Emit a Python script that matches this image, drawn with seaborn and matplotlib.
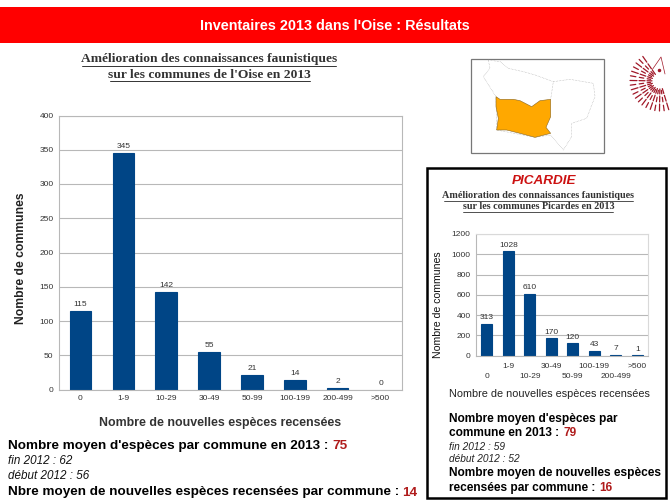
import numpy as np
import pandas as pd
import matplotlib
matplotlib.use("Agg")
import matplotlib.pyplot as plt
from matplotlib.patches import Polygon, Rectangle
import seaborn as sns

# Oise chart
classes = ["0", "1-9", "10-29", "30-49", "50-99", "100-199", "200-499", ">500"]
oise_values = [115, 345, 142, 55, 21, 14, 2, 0]
oise_ticks = [0, 50, 100, 150, 200, 250, 300, 350, 400]

# Picardie chart
picardie_values = [313, 1028, 610, 170, 120, 43, 7, 1]
picardie_ticks = [0, 200, 400, 600, 800, 1000, 1200]

BLUE = "#004586"
GRID = "#b8b8b8"
W, H = 670, 503

sns.set_theme(style="white")
plt.rcParams["font.family"] = ["Liberation Sans", "DejaVu Sans"]

fig = plt.figure(figsize=(W / 100, H / 100), dpi=100, facecolor="white")


def axes_px(left, top, right, bottom):
    return fig.add_axes([left / W, 1 - bottom / H, (right - left) / W, (bottom - top) / H])


def bar_chart(ax, values, ticks, ymax, width, fs):
    df = pd.DataFrame({"classe": classes, "n": values})
    sns.barplot(data=df, x="classe", y="n", color=BLUE, saturation=1, width=width, ax=ax,
                edgecolor=BLUE, linewidth=0.8)
    for p in ax.containers[0]:
        if p.get_height() == 0:
            p.set_linewidth(0)
    ax.set_xlim(-0.5, len(classes) - 0.5)
    ax.set_ylim(0, ymax)
    ax.set_yticks(ticks)
    ax.set_xlabel("")
    ax.set_ylabel("")
    ax.grid(axis="y", color=GRID, lw=0.8)
    ax.set_axisbelow(True)
    for s in ax.spines.values():
        s.set_color(GRID)
        s.set_linewidth(0.8)
    ax.tick_params(axis="y", length=2.5, width=0.8, color=GRID, labelsize=fs, labelcolor="#333333", pad=1.5)
    ax.bar_label(ax.containers[0], fontsize=fs, color="#333333", padding=2)


# ----------------- Oise -----------------
ax1 = axes_px(59, 115.5, 402, 389.5)
bar_chart(ax1, oise_values, oise_ticks, 400, 0.5, 6)
ax1.set_xticks(np.arange(-0.5, 8), labels=[])
ax1.tick_params(axis="x", length=2.5, width=0.8, color=GRID)

# ----------------- Picardie -----------------
ax2 = axes_px(476, 234, 648, 355.5)
bar_chart(ax2, picardie_values, picardie_ticks, 1200, 0.5, 6)
ax2.spines["top"].set_color("#d9d9d9")
ax2.spines["right"].set_color("#d9d9d9")
ax2.set_xticks(np.arange(-0.5, 8), labels=[])
ax2.tick_params(axis="x", length=2.5, width=0.8, color=GRID)

# ----------------- Overlay in pixel coordinates -----------------
ov = fig.add_axes([0, 0, 1, 1], zorder=5)
ov.set_xlim(0, W)
ov.set_ylim(H, 0)
ov.axis("off")
ov.patch.set_alpha(0)

ov.add_patch(Rectangle((0, 7), W, 36, color="#ff0000", lw=0))
ov.text(335, 26, "Inventaires 2013 dans l'Oise : Résultats", color="white", fontsize=10.4,
        ha="center", va="center", fontweight="bold")

TITLE = "#333333"
ov.text(209, 59, "Amélioration des connaissances faunistiques", family="Liberation Serif",
        fontweight="bold", fontsize=9.7, color=TITLE, ha="center", va="center")
ov.text(209, 74.5, "sur les communes de l'Oise en 2013", family="Liberation Serif",
        fontweight="bold", fontsize=9.7, color=TITLE, ha="center", va="center")
ov.plot([82, 336], [65.5, 65.5], color=TITLE, lw=0.7)
ov.plot([110, 310], [80.5, 80.5], color=TITLE, lw=0.7)

# tick labels, Oise
slot1 = (402 - 59) / 8
for i, c in enumerate(classes):
    ov.text(59 + slot1 * (i + 0.5), 399, c, fontsize=6, color="#333333", ha="center", va="center")
ov.text(21, 258, "Nombre de communes", rotation=90, fontsize=8.7, fontweight="bold",
        color="#222222", ha="center", va="center")
ov.text(220.5, 423, "Nombre de nouvelles espèces recensées", fontsize=8.9, fontweight="bold",
        color="#333333", ha="center", va="center")

# tick labels, Picardie (two staggered rows)
slot2 = (648 - 476) / 8
for i, c in enumerate(classes):
    y = 366.5 if i % 2 else 376
    ov.text(476 + slot2 * (i + 0.5), y, c, fontsize=6, color="#333333", ha="center", va="center")
ov.text(438, 305, "Nombre de communes", rotation=90, fontsize=7.6, color="#111111",
        ha="center", va="center")
ov.text(549.5, 394, "Nombre de nouvelles espèces recensées", fontsize=7.8, color="#222222",
        ha="center", va="center")

# Picardie frame and headings
ov.add_patch(Rectangle((426.5, 167.5), 239.5, 330.5, fc="none", ec="black", lw=1.8))
ov.text(544.5, 180.5, "PICARDIE", fontsize=9.7, color="#cc1111", fontstyle="italic",
        fontweight="bold", ha="center", va="center")
ov.text(538.5, 196, "Amélioration des connaissances faunistiques", family="Liberation Serif",
        fontweight="bold", fontsize=7.3, color=TITLE, ha="center", va="center")
ov.text(538.5, 206.5, "sur les communes Picardes en 2013", family="Liberation Serif",
        fontweight="bold", fontsize=7.3, color=TITLE, ha="center", va="center")
ov.plot([444, 633], [201, 201], color=TITLE, lw=0.6)
ov.plot([463, 613], [211.5, 211.5], color=TITLE, lw=0.6)

RED = "#b01c1c"


def stat(x, y, txt, val, fs, x_val):
    ov.text(x, y, txt, fontsize=fs, fontweight="bold", color="black", va="center")
    if val:
        ov.text(x_val, y, val, fontsize=fs, fontweight="bold", color=RED, va="center")


stat(8, 446, "Nombre moyen d'espèces par commune en 2013 :", "75", 9.7, 332)
ov.text(8, 461.5, "fin 2012 : 62", fontsize=8.4, fontstyle="italic", color="#111111", va="center")
ov.text(8, 476, "début 2012 : 56", fontsize=8.4, fontstyle="italic", color="#111111", va="center")
stat(8, 492.5, "Nbre moyen de nouvelles espèces recensées par commune :", "14", 9.7, 402)

stat(449, 419, "Nombre moyen d'espèces par", "", 8.55, 0)
stat(449, 433, "commune en 2013 :", "79", 8.55, 563)
ov.text(449, 446.5, "fin 2012 : 59", fontsize=7.3, fontstyle="italic", color="#222222", va="center")
ov.text(449, 459, "début 2012 : 52", fontsize=7.3, fontstyle="italic", color="#222222", va="center")
stat(449, 473, "Nombre moyen de nouvelles espèces", "", 8.55, 0)
stat(449, 488, "recensées par commune :", "16", 8.55, 599)

# Map inset
ov.add_patch(Rectangle((470.5, 58.5), 133, 94, fc="white", ec="#777777", lw=0.9))
region = np.array([(205, 60), (240, 65), (265, 85), (310, 95), (345, 105), (400, 125), (450, 118),
                   (520, 130), (525, 170), (500, 235), (455, 250), (455, 290), (430, 330),
                   (392, 285), (345, 292), (230, 270), (228, 170), (190, 110), (210, 85)], float)
oise_shape = np.array([(228, 170), (240, 178), (280, 178), (300, 182), (335, 200), (360, 182),
                       (392, 178), (392, 230), (378, 262), (392, 280), (345, 292), (300, 280),
                       (260, 270), (230, 270), (235, 235), (228, 200)], float)
for pts, fc, ec, ls in [(region, "white", "#999999", ":"), (oise_shape, "#ffa800", "#886622", "-")]:
    ov.add_patch(Polygon(np.c_[pts[:, 0] / 3 + 420, pts[:, 1] / 3 + 40], fc=fc, ec=ec, lw=0.4, ls=ls))
ov.plot([420 + 400 / 3, 420 + 392 / 3], [40 + 125 / 3, 40 + 178 / 3], color="#999999", lw=0.4, ls=":")

# Hedgehog logo, spikes fanning out from under the head
cx, cy = 660, 81
for k, a in enumerate(np.deg2rad(np.arange(125, 295, 9))):
    for r0, r1 in [(8, 13), (15, 21), (23, 30)]:
        r0 += 1.5 * (k % 2)
        ov.plot([cx + r0 * np.cos(a), cx + r1 * np.cos(a)],
                [cy - r0 * np.sin(a), cy - r1 * np.sin(a)], color="#a01828", lw=0.9)
ov.plot([652, 661, 665], [70, 57, 74], color="#a01828", lw=0.5)
ov.plot([659], [70], marker="o", ms=1.5, color="#a01828")

fig.savefig("out.png", dpi=100)
